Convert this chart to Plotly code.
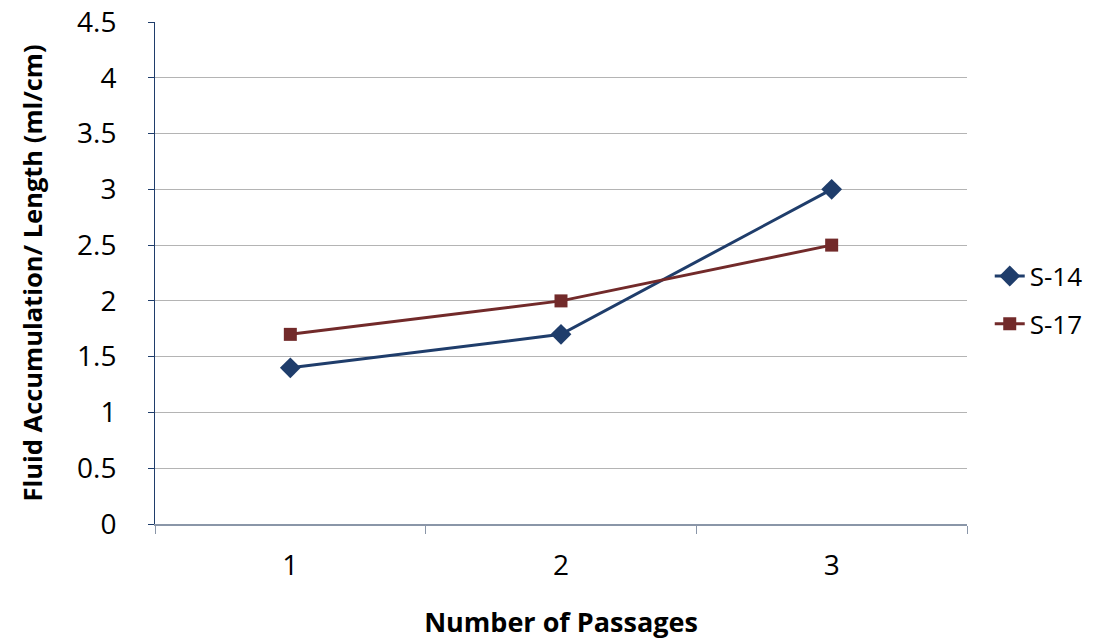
import plotly.graph_objects as go

categories = ["1", "2", "3"]
s14 = [1.4, 1.7, 3.0]
s17 = [1.7, 2.0, 2.5]
yticks = [0, 0.5, 1, 1.5, 2, 2.5, 3, 3.5, 4, 4.5]
ytick_labels = ["0", "0.5", "1", "1.5", "2", "2.5", "3", "3.5", "4", "4.5"]

font = "Open Sans, Liberation Sans, sans-serif"

fig = go.Figure()
fig.add_trace(go.Scatter(x=categories, y=s14, name="S-14", mode="lines+markers",
                         legendgroup="a",
                         line=dict(color="#1F3D6B", width=3),
                         marker=dict(symbol="diamond", size=16, color="#1F3D6B")))
fig.add_trace(go.Scatter(x=categories, y=s17, name="S-17", mode="lines+markers",
                         legendgroup="b",
                         line=dict(color="#722A2A", width=3),
                         marker=dict(symbol="square", size=13, color="#722A2A")))

fig.update_layout(
    width=1094, height=641,
    margin=dict(l=155, r=127, t=22, b=117, autoexpand=False),
    paper_bgcolor="white", plot_bgcolor="white",
    font=dict(family=font, size=26, color="black"),
    legend=dict(x=1.028, y=0.446, xanchor="left", yanchor="middle",
                font=dict(size=26), itemwidth=30, tracegroupgap=11),
    xaxis=dict(type="category", tickson="boundaries", ticks="outside", ticklen=8,
               tickcolor="#8A96A8", showline=True, linecolor="#8A96A8", linewidth=2,
               showgrid=False, range=[-0.5, 2.5], automargin=False,
               ticklabelstandoff=15, ticklabeloverflow="allow",
               title=dict(text="<b>Number of Passages</b>", font=dict(size=27), standoff=32),
               tickfont=dict(size=28)),
    yaxis=dict(range=[0, 4.5], tickvals=yticks, ticktext=ytick_labels,
               ticks="outside", ticklen=6, tickcolor="#1F3D6B",
               showline=True, linecolor="#1F3D6B", linewidth=1, automargin=False,
               ticklabelstandoff=26, ticklabeloverflow="allow",
               showgrid=True, gridcolor="#B4B4B4", gridwidth=1, zeroline=False,
               title=dict(text="<b>Fluid Accumulation/ Length (ml/cm)</b>", font=dict(size=25.5), standoff=27),
               tickfont=dict(size=28)),
)
fig.write_html("out.html", config={"displayModeBar": False},
               post_script="document.body.style.margin='0';")
